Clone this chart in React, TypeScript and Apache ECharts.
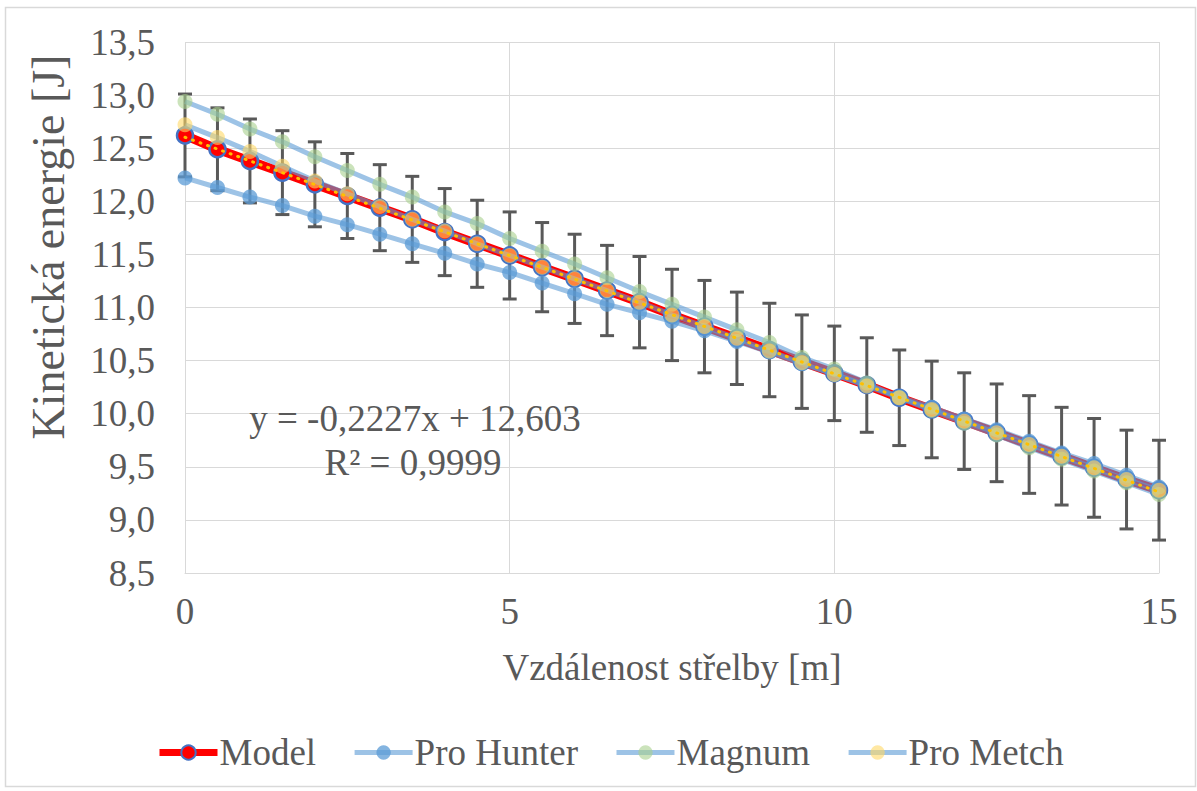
import React, { useEffect, useRef } from "react";
import * as echarts from "echarts";

const distances = [0, 0.5, 1, 1.5, 2, 2.5, 3, 3.5, 4, 4.5, 5, 5.5, 6, 6.5, 7, 7.5, 8, 8.5, 9, 9.5, 10, 10.5, 11, 11.5, 12, 12.5, 13, 13.5, 14, 14.5, 15];
const model = [12.62, 12.49, 12.38, 12.27, 12.16, 12.05, 11.94, 11.83, 11.71, 11.6, 11.49, 11.38, 11.27, 11.16, 11.05, 10.93, 10.82, 10.71, 10.6, 10.49, 10.38, 10.27, 10.15, 10.04, 9.93, 9.82, 9.71, 9.6, 9.49, 9.38, 9.28];
const modelError = [0.39, 0.39, 0.395, 0.395, 0.4, 0.4, 0.405, 0.405, 0.41, 0.41, 0.41, 0.42, 0.42, 0.425, 0.43, 0.43, 0.435, 0.435, 0.44, 0.44, 0.445, 0.445, 0.45, 0.455, 0.455, 0.46, 0.46, 0.46, 0.465, 0.465, 0.47];
const proHunter = [12.22, 12.13, 12.04, 11.96, 11.86, 11.78, 11.69, 11.6, 11.51, 11.41, 11.33, 11.23, 11.13, 11.03, 10.95, 10.87, 10.78, 10.68, 10.58, 10.47, 10.37, 10.27, 10.16, 10.06, 9.95, 9.85, 9.74, 9.63, 9.53, 9.42, 9.31];
const magnum = [12.94, 12.82, 12.68, 12.56, 12.42, 12.29, 12.16, 12.04, 11.9, 11.79, 11.65, 11.53, 11.41, 11.28, 11.15, 11.03, 10.91, 10.79, 10.67, 10.53, 10.42, 10.29, 10.15, 10.03, 9.91, 9.8, 9.68, 9.57, 9.46, 9.35, 9.24];
const proMetch = [12.72, 12.6, 12.47, 12.33, 12.19, 12.07, 11.95, 11.83, 11.72, 11.6, 11.49, 11.38, 11.27, 11.16, 11.05, 10.93, 10.82, 10.71, 10.59, 10.48, 10.37, 10.26, 10.15, 10.04, 9.93, 9.82, 9.71, 9.6, 9.49, 9.38, 9.28];
const trendX = [0, 15];
const trendY = [12.603, 9.2625];
const seriesNames = ["Model", "Pro Hunter", "Magnum", "Pro Metch"];
const equationLines = ["y = -0,2227x + 12,603", "R² = 0,9999"];
const xTitle = "Vzdálenost střelby [m]";
const yTitle = "Kinetická energie [J]";

const FONT = "Liberation Serif";
const TEXT = "#595959";
const MEASURED_LINE = "rgba(91,155,213,0.6)";

export default function App() {
  const ref = useRef<HTMLDivElement>(null);
  useEffect(() => {
    if (!ref.current) return;
    const chart = echarts.init(ref.current, null, { renderer: "svg" });
    const pairs = (ys: number[]) => distances.map((x, i) => [x, ys[i]]);
    const measured = (name: string, ys: number[], marker: string) => ({
      name,
      type: "line",
      data: pairs(ys),
      symbol: "circle",
      symbolSize: 15,
      z: 3,
      lineStyle: { color: MEASURED_LINE, width: 5 },
      itemStyle: { color: marker, borderWidth: 0 },
    });
    chart.setOption({
      animation: false,
      backgroundColor: "#fff",
      textStyle: { fontFamily: FONT },
      grid: { left: 185, right: 38, top: 42, bottom: 218, containLabel: false },
      xAxis: {
        type: "value",
        min: 0,
        max: 15,
        interval: 5,
        name: xTitle,
        nameLocation: "middle",
        nameGap: 76,
        nameTextStyle: { fontSize: 37, color: TEXT, fontFamily: FONT },
        axisLine: { show: true, lineStyle: { color: "#D9D9D9" } },
        axisTick: { show: false },
        axisLabel: { fontSize: 37, color: TEXT, margin: 20, fontFamily: FONT },
        splitLine: { show: true, lineStyle: { color: "#D9D9D9", width: 1 } },
      },
      yAxis: {
        type: "value",
        min: 8.5,
        max: 13.5,
        interval: 0.5,
        axisLine: { show: false },
        axisTick: { show: false },
        axisLabel: {
          fontSize: 37,
          color: TEXT,
          margin: 30,
          fontFamily: FONT,
          formatter: (v: number) => v.toFixed(1).replace(".", ","),
        },
        splitLine: { show: true, lineStyle: { color: "#D9D9D9", width: 1 } },
      },
      legend: {
        data: [
          { name: seriesNames[0], lineStyle: { width: 7 } },
          { name: seriesNames[1], lineStyle: { width: 5 } },
          { name: seriesNames[2], lineStyle: { width: 5 } },
          { name: seriesNames[3], lineStyle: { width: 5 } },
        ],
        left: 156,
        top: 734,
        padding: 0,
        itemWidth: 58,
        itemHeight: 18,
        itemGap: 36,
        lineStyle: { width: "inherit" },
        textStyle: { fontSize: 37, color: TEXT, fontFamily: FONT, padding: [0, 0, 0, -3] },
      },
      graphic: [
        {
          type: "rect",
          shape: { x: 5.5, y: 7.5, width: 1190, height: 779 },
          style: { fill: "none", stroke: "#D9D9D9", lineWidth: 1.5 },
          silent: true,
        },
        {
          type: "text",
          x: 48,
          y: 247,
          rotation: Math.PI / 2,
          style: { text: yTitle, fill: TEXT, font: `46px ${FONT}`, textAlign: "center", textVerticalAlign: "middle" },
        },
        {
          type: "text",
          x: 415,
          y: 418,
          z: 10,
          style: { text: equationLines[0], fill: TEXT, font: `37px ${FONT}`, textAlign: "center", textVerticalAlign: "middle" },
        },
        {
          type: "text",
          x: 413,
          y: 462,
          z: 10,
          style: { text: equationLines[1], fill: TEXT, font: `37px ${FONT}`, textAlign: "center", textVerticalAlign: "middle" },
        },
      ],
      series: [
        {
          name: "Model",
          type: "line",
          data: pairs(model),
          symbol: "circle",
          symbolSize: 16,
          z: 2,
          lineStyle: { color: "#FF0000", width: 9 },
          itemStyle: { color: "#FF0000", borderColor: "#4472C4", borderWidth: 2.5 },
        },
        {
          name: "errors",
          type: "custom",
          z: 2,
          data: distances.map((x, i) => [x, model[i], modelError[i]]),
          renderItem: (params: any, api: any) => {
            const x = api.value(0);
            const y = api.value(1);
            const e = api.value(2);
            const top = api.coord([x, y + e]);
            const bot = api.coord([x, y - e]);
            const cap = 7;
            const style = { stroke: "#595959", lineWidth: 3 };
            return {
              type: "group",
              children: [
                { type: "line", shape: { x1: top[0], y1: top[1], x2: bot[0], y2: bot[1] }, style },
                { type: "line", shape: { x1: top[0] - cap, y1: top[1], x2: top[0] + cap, y2: top[1] }, style },
                { type: "line", shape: { x1: bot[0] - cap, y1: bot[1], x2: bot[0] + cap, y2: bot[1] }, style },
              ],
            };
          },
        },
        measured("Pro Hunter", proHunter, "rgba(91,155,213,0.75)"),
        measured("Magnum", magnum, "rgba(169,209,142,0.6)"),
        measured("Pro Metch", proMetch, "rgba(255,217,102,0.6)"),
        {
          name: "trend",
          type: "line",
          data: trendX.map((x, i) => [x, trendY[i]]),
          symbol: "none",
          z: 5,
          lineStyle: { color: "#FFC000", width: 3, type: [1, 7], cap: "round" },
        },
      ],
    });
    return () => chart.dispose();
  }, []);
  return <div ref={ref} style={{ position: "absolute", left: 0, top: 0, width: 1197, height: 791 }} />;
}
